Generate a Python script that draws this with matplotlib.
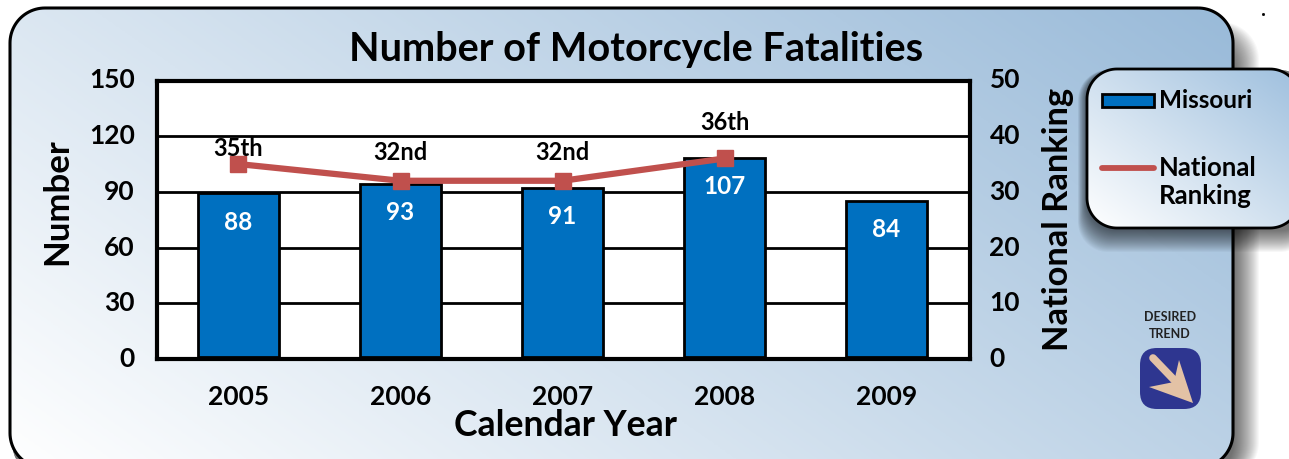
import numpy as np
import matplotlib
matplotlib.use("Agg")
import matplotlib.pyplot as plt
from matplotlib.patches import FancyBboxPatch, Polygon, Rectangle
from matplotlib.lines import Line2D
from matplotlib.transforms import ScaledTranslation

years = ["2005", "2006", "2007", "2008", "2009"]
fatalities = [88, 93, 91, 107, 84]
rank_years = [0, 1, 2, 3]
rankings = [35, 32, 32, 36]
rank_labels = ["35th", "32nd", "32nd", "36th"]
left_ticks = [0, 30, 60, 90, 120, 150]
right_ticks = [0, 10, 20, 30, 40, 50]

W, H = 1289, 459
plt.rcParams['font.family'] = ['Lato', 'DejaVu Sans']
plt.rcParams['font.weight'] = 'bold'

BLUE = "#0070c0"
RED = "#c0504d"


def px(x, y, w, h):
    return [x / W, 1 - (y + h) / H, w / W, h / H]


def rounded(x0, y0, x1, y1, r):
    # plain polygon with arc corners, bezier boxes go wrong past the figure edge
    pts = []
    corners = [(x1 - r, y0 + r, -90), (x1 - r, y1 - r, 0), (x0 + r, y1 - r, 90), (x0 + r, y0 + r, 180)]
    for cx, cy, a in corners:
        t = np.radians(np.linspace(a, a + 90, 24))
        pts.extend(zip(cx + r * np.cos(t), cy + r * np.sin(t)))
    return np.array(pts)


def gradient(ax, x0, y0, x1, y1, patch, low, high, wx, wy, z):
    yy, xx = np.mgrid[0:1:200j, 0:1:200j]
    t = (wx * xx + wy * (1 - yy))[..., None]
    img = np.array(low) * (1 - t) + np.array(high) * t
    im = ax.imshow(img, extent=[x0, x1, y1, y0], aspect="auto", zorder=z, origin="upper")
    im.set_clip_path(patch)


fig = plt.figure(figsize=(W / 100, H / 100), dpi=100, facecolor="white")

# background layer in pixel coords
bg = fig.add_axes([0, 0, 1, 1])
bg.set_xlim(0, W)
bg.set_ylim(H, 0)
bg.axis("off")

# soft shadow right of the card
for i in range(26):
    bg.add_patch(Polygon(rounded(12, 22 + i * 0.5, 1259 - i, 480, 38), fc="black", ec="none", alpha=0.028, zorder=1))
bg.plot([1263], [14], marker="s", ms=1, color="black", zorder=1)

card = Polygon(rounded(10, 8, 1233, 468, 35), fc="none", ec="none", zorder=2)
bg.add_patch(card)
gradient(bg, 10, 8, 1233, 468, card, (1, 1, 1), (0.60, 0.73, 0.85), 0.65, 0.35, 2)
bg.add_patch(Polygon(rounded(10, 8, 1233, 468, 35), fc="none", ec="black", lw=2.2, zorder=3))

# legend card and its shadow
for i in range(22):
    bg.add_patch(Polygon(rounded(1078 + i * 0.4, 70, 1310, 252 - i, 30), fc="black", ec="none", alpha=0.03, zorder=4))
leg = Polygon(rounded(1087, 69, 1300, 228, 30), fc="none", ec="none", zorder=5)
bg.add_patch(leg)
gradient(bg, 1087, 69, 1300, 228, leg, (1, 1, 1), (0.62, 0.75, 0.87), 0.5, 0.5, 5)
bg.add_patch(Polygon(rounded(1087, 69, 1300, 228, 30), fc="none", ec="black", lw=2, zorder=6))
bg.add_patch(Rectangle((1102, 94), 52, 13, fc=BLUE, ec="black", lw=2, zorder=7))
bg.add_line(Line2D([1102, 1154], [167.5, 167.5], color=RED, lw=4.2, solid_capstyle="round", zorder=7))
bg.text(1159, 101, "Missouri", fontsize=17.5, va="center", ha="left", zorder=7)
bg.text(1159, 168, "National", fontsize=18.5, va="center", ha="left", zorder=7)
bg.text(1159, 196, "Ranking", fontsize=18.5, va="center", ha="left", zorder=7)

# desired trend badge
bg.text(1170, 317, "DESIRED", fontsize=9, ha="center", va="center", color="#222222", zorder=7)
bg.text(1170, 334, "TREND", fontsize=9, ha="center", va="center", color="#222222", zorder=7)
bg.add_patch(FancyBboxPatch((1140, 348), 61, 61, boxstyle="round,pad=0,rounding_size=17",
                            fc="#2e3690", ec="none", zorder=7))
bg.add_line(Line2D([1153, 1178], [358, 384], color="#e3c2a5", lw=5.5, solid_capstyle="round", zorder=8))
bg.add_patch(Polygon([(1193, 403), (1149, 387), (1174, 382), (1179, 360)], fc="#e3c2a5", ec="none", zorder=8))

# chart
ax = fig.add_axes(px(157, 80.5, 813, 278.5), zorder=2)
ax.set_xlim(-0.503, 4.515)
ax.set_ylim(0, 150)
ax.set_facecolor("white")
ax.set_axisbelow(True)
ax.yaxis.grid(True, color="black", lw=2)
# bars sit a little above the axis line in the original
lift = ScaledTranslation(0, 2.4 / 100, fig.dpi_scale_trans)
ax.bar(range(5), fatalities, width=0.5, color=BLUE, edgecolor="black", lw=2, zorder=3, transform=ax.transData + lift)
ax.set_xticks(range(5), years)
ax.set_yticks(left_ticks)
ax.tick_params(axis="y", length=0, labelsize=19, pad=16)
ax.tick_params(axis="x", length=0, labelsize=19, pad=19)
for s in ax.spines.values():
    s.set_linewidth(3)

for i, v in enumerate(fatalities):
    ax.annotate(str(v), (i, v), xytext=(0, -19), textcoords="offset points", color="white",
                fontsize=17.5, ha="center", va="center", zorder=6)

ax2 = ax.twinx()
ax2.set_ylim(0, 50)
ax2.set_yticks(right_ticks)
ax2.tick_params(axis="y", length=0, labelsize=19, pad=14)
for s in ax2.spines.values():
    s.set_visible(False)
ax2.plot(rank_years, rankings, color=RED, lw=4.5, marker="s", ms=11, zorder=5)
label_offsets = [11.5, 20, 20, 26]
for i, r in enumerate(rankings):
    ax2.annotate(rank_labels[i], (rank_years[i], r), xytext=(0, label_offsets[i]), textcoords="offset points",
                 fontsize=17, ha="center", va="center", zorder=6)
# tick labels sit about 2px above the gridlines
for lab in ax.get_yticklabels() + ax2.get_yticklabels():
    lab.set_transform(lab.get_transform() + ScaledTranslation(0, 2 / 100, fig.dpi_scale_trans))

fig.text(57 / W, 1 - 202 / H, "Number", fontsize=25, rotation=90, ha="center", va="center")
fig.text(1058 / W, 1 - 219 / H, "National Ranking", fontsize=24.8, rotation=90, ha="center", va="center")
fig.text(636 / W, 1 - 50 / H, "Number of Motorcycle Fatalities", fontsize=28.5, ha="center", va="center")
fig.text(566 / W, 1 - 425 / H, "Calendar Year", fontsize=25.7, ha="center", va="center")

fig.savefig("out.png", dpi=100)
